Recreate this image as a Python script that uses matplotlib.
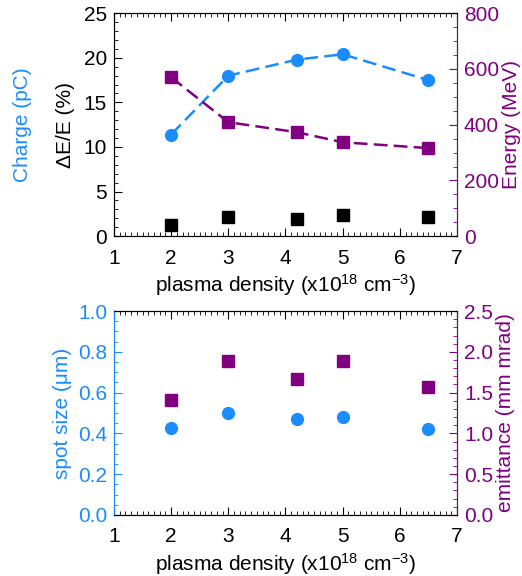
import matplotlib
matplotlib.use("Agg")
import matplotlib.pyplot as plt
from matplotlib.ticker import MultipleLocator

plt.rcParams['font.family'] = ['Liberation Sans', 'DejaVu Sans']
plt.rcParams['mathtext.fontset'] = 'custom'
plt.rcParams['mathtext.rm'] = 'Liberation Sans'
plt.rcParams['mathtext.it'] = 'Liberation Sans:italic'

BLUE = '#1a8cff'
PURPLE = '#800080'

# data
density = [2, 3, 4.2, 5, 6.5]
charge = [11.4, 18.0, 19.8, 20.4, 17.5]          # pC
energy_spread = [1.3, 2.1, 1.9, 2.4, 2.1]        # %
energy = [570, 409, 373, 337, 316]               # MeV
spot_size = [0.428, 0.498, 0.469, 0.479, 0.42]   # um
emittance = [1.41, 1.89, 1.67, 1.89, 1.565]      # mm mrad

xlabel = r'plasma density (x10$^{\mathrm{18}}$ cm$^{\mathrm{-3}}$)'
fs = 15


def style_x(ax):
    ax.set_xlim(1, 7)
    ax.xaxis.set_major_locator(MultipleLocator(1))
    ax.xaxis.set_minor_locator(MultipleLocator(0.1))
    ax.tick_params(axis='x', which='both', direction='in', top=True, labelsize=fs, pad=9)
    ax.tick_params(axis='x', which='major', length=6)
    ax.tick_params(axis='x', which='minor', length=3)
    ax.set_xlabel(xlabel, fontsize=fs, labelpad=3)


def style_y(ax, color):
    ax.tick_params(axis='y', which='both', direction='in', labelsize=fs,
                   colors=color, pad=5)
    ax.tick_params(axis='y', which='major', length=6)
    ax.tick_params(axis='y', which='minor', length=3)


fig = plt.figure(figsize=(5.22, 5.76), dpi=100)

# top panel
ax1 = fig.add_axes([0.2184, 0.590, 0.657, 0.387])
ax1b = ax1.twinx()
ax1.plot(density, charge, color=BLUE, ls=(0, (5.5, 2.5)), lw=1.8,
         marker='o', ms=8.5, zorder=3)
ax1.plot(density, energy_spread, color='black', ls='none', marker='s', ms=8.5)
ax1b.plot(density, energy, color=PURPLE, ls=(0, (5.5, 2.5)), lw=1.8,
          marker='s', ms=8.5)
ax1.set_ylim(0, 25)
ax1.yaxis.set_major_locator(MultipleLocator(5))
ax1.yaxis.set_minor_locator(MultipleLocator(1))
ax1b.set_ylim(0, 800)
ax1b.yaxis.set_major_locator(MultipleLocator(200))
ax1b.yaxis.set_minor_locator(MultipleLocator(50))
style_x(ax1)
style_y(ax1, 'black')
style_y(ax1b, PURPLE)
ax1b.spines['right'].set_color(PURPLE)
ax1b.set_ylabel('Energy (MeV)', color=PURPLE, fontsize=fs, labelpad=2)
fig.text(0.044, 0.783, 'Charge (pC)', color=BLUE, fontsize=fs,
         rotation=90, ha='center', va='center')
fig.text(0.125, 0.783, 'ΔE/E (%)', color='black', fontsize=fs,
         rotation=90, ha='center', va='center')

# bottom panel
ax2 = fig.add_axes([0.2184, 0.106, 0.657, 0.354])
ax2b = ax2.twinx()
ax2.plot(density, spot_size, color=BLUE, ls='none', marker='o', ms=8.5)
ax2b.plot(density, emittance, color=PURPLE, ls='none', marker='s', ms=8.5)
ax2.set_ylim(0, 1)
ax2.yaxis.set_major_locator(MultipleLocator(0.2))
ax2.yaxis.set_minor_locator(MultipleLocator(0.05))
ax2.yaxis.set_major_formatter('{x:.1f}')
ax2b.set_ylim(0, 2.5)
ax2b.yaxis.set_major_locator(MultipleLocator(0.5))
ax2b.yaxis.set_minor_locator(MultipleLocator(0.1))
ax2b.yaxis.set_major_formatter('{x:.1f}')
style_x(ax2)
style_y(ax2, BLUE)
style_y(ax2b, PURPLE)
ax2b.spines['left'].set_color(BLUE)
ax2b.spines['right'].set_color(PURPLE)
ax2.set_ylabel('spot size (μm)', color=BLUE, fontsize=fs, labelpad=4)
ax2b.set_ylabel('emittance (mm mrad)', color=PURPLE, fontsize=fs, labelpad=2)

fig.savefig('out.png', dpi=100)
